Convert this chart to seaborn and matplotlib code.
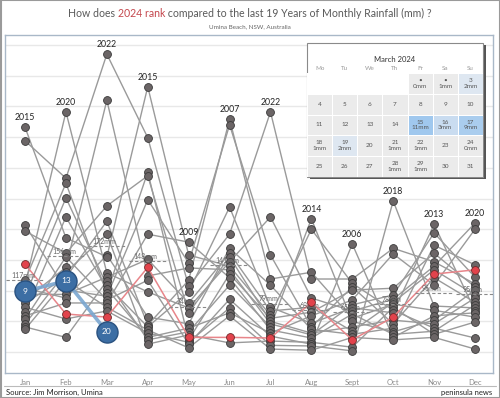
import numpy as np
import pandas as pd
import seaborn as sns
import matplotlib.pyplot as plt
from matplotlib.colors import LinearSegmentedColormap
from matplotlib.patches import Rectangle
from matplotlib.lines import Line2D

months = ['Jan', 'Feb', 'Mar', 'Apr', 'May', 'Jun', 'Jul', 'Aug', 'Sept', 'Oct', 'Nov', 'Dec']

# monthly rainfall (mm), high to low, with the year each value belongs to
jan_mm = [366, 344, 207, 197, 143, 117, 109, 104, 94, 91, 85, 80, 73, 65, 59, 54, 46, 41, 37]
jan_years = [2015, 2022, 2016, 2012, 2023, 2008, 2020, 2011, 2005, 2013, 2021, 2007, 2018, 2010, 2009, 2006, 2017, 2014, 2019]
feb_mm = [391, 283, 275, 251, 220, 186, 161, 155, 138, 130, 122, 117, 101, 94, 88, 80, 62, 54, 24]
feb_years = [2020, 2022, 2008, 2013, 2010, 2015, 2012, 2006, 2021, 2017, 2007, 2019, 2016, 2005, 2011, 2009, 2023, 2018, 2014]
mar_mm = [485, 410, 238, 213, 192, 158, 155, 129, 122, 116, 109, 103, 96, 91, 85, 80, 73, 67, 57]
mar_years = [2022, 2021, 2012, 2007, 2017, 2011, 2015, 2020, 2005, 2014, 2013, 2010, 2008, 2016, 2006, 2009, 2019, 2018, 2023]
apr_mm = [432, 349, 293, 287, 248, 192, 151, 138, 124, 117, 98, 57, 44, 41, 36, 31, 24, 20, 13]
apr_years = [2015, 2022, 2008, 2012, 2016, 2009, 2005, 2023, 2021, 2006, 2020, 2011, 2007, 2013, 2019, 2018, 2010, 2014, 2017]
may_mm = [179, 158, 145, 137, 117, 107, 98, 80, 72, 64, 46, 39, 33, 28, 24, 20, 16, 13, 7]
may_years = [2009, 2015, 2016, 2021, 2007, 2022, 2013, 2005, 2020, 2012, 2011, 2010, 2014, 2017, 2023, 2008, 2018, 2006, 2019]
jun_mm = [379, 370, 236, 192, 169, 161, 155, 147, 140, 134, 127, 121, 109, 86, 72, 64, 59, 24, 15]
jun_years = [2007, 2016, 2013, 2022, 2011, 2005, 2012, 2020, 2015, 2021, 2008, 2009, 2014, 2006, 2018, 2010, 2019, 2023, 2017]
jul_mm = [391, 220, 158, 119, 109, 73, 67, 60, 55, 50, 46, 41, 36, 31, 26, 23, 18, 11, 5]
jul_years = [2022, 2020, 2016, 2007, 2011, 2013, 2005, 2015, 2008, 2012, 2021, 2014, 2009, 2010, 2006, 2023, 2017, 2018, 2019]
aug_mm = [217, 200, 130, 119, 88, 81, 73, 65, 59, 47, 41, 37, 31, 28, 23, 16, 13, 10, 3]
aug_years = [2014, 2015, 2007, 2022, 2020, 2023, 2005, 2008, 2010, 2013, 2016, 2011, 2012, 2021, 2009, 2017, 2006, 2018, 2019]
sep_mm = [176, 119, 112, 106, 101, 85, 77, 72, 67, 62, 55, 50, 41, 34, 29, 24, 20, 8, 2]
sep_years = [2006, 2022, 2015, 2016, 2008, 2010, 2021, 2013, 2020, 2009, 2007, 2014, 2012, 2005, 2011, 2019, 2023, 2017, 2018]
oct_mm = [246, 169, 160, 104, 93, 86, 81, 78, 73, 68, 64, 57, 52, 46, 39, 33, 29, 24, 20]
oct_years = [2018, 2022, 2010, 2008, 2021, 2020, 2005, 2007, 2017, 2015, 2013, 2023, 2012, 2016, 2011, 2014, 2009, 2006, 2019]
nov_mm = [208, 194, 174, 161, 147, 140, 134, 127, 121, 109, 75, 68, 59, 52, 46, 39, 34, 29, 24]
nov_years = [2013, 2021, 2011, 2008, 2022, 2020, 2005, 2023, 2016, 2010, 2018, 2007, 2006, 2014, 2012, 2015, 2009, 2017, 2019]
dec_mm = [210, 200, 142, 134, 122, 111, 106, 101, 93, 88, 81, 77, 72, 67, 64, 57, 49, 23, 5]
dec_years = [2020, 2010, 2011, 2023, 2021, 2022, 2008, 2014, 2005, 2012, 2016, 2009, 2018, 2013, 2006, 2007, 2017, 2015, 2019]

# 2024 so far and its rank among the 20 years
mm_2024 = [99, 116, 33]
rank_2024 = [9, 13, 20]

# average labels shown for each month
avg_mm = [117, 156, 172, 148, 74, 141, 79, 68, 65, 78, 96, 95]

# March 2024 daily rain (calendar)
rain_days = [1, 2, 3, 15, 16, 17, 18, 19, 21, 22, 24, 28, 29]
rain_day_mm = [0, 1, 2, 11, 3, 9, 1, 2, 1, 1, 0, 1, 1]
weekdays = ['Mo', 'Tu', 'We', 'Th', 'Fr', 'Sa', 'Su']

month_mm = [jan_mm, feb_mm, mar_mm, apr_mm, may_mm, jun_mm, jul_mm, aug_mm, sep_mm, oct_mm, nov_mm, dec_mm]
month_years = [jan_years, feb_years, mar_years, apr_years, may_years, jun_years,
               jul_years, aug_years, sep_years, oct_years, nov_years, dec_years]
rows = []
for m, (vals, yrs) in enumerate(zip(month_mm, month_years)):
    for v, y in zip(vals, yrs):
        rows.append({'year': y, 'month': m, 'mm': v})
df = pd.DataFrame(rows)
df24 = pd.DataFrame({'month': range(len(mm_2024)), 'mm': mm_2024, 'rank': rank_2024})

sns.set_theme(style='white')
plt.rcParams['font.family'] = ['Lato', 'DejaVu Sans']

fig = plt.figure(figsize=(5, 3.98), dpi=100)
ax = fig.add_axes([0.01, 0.0628, 0.976, 0.849])

grey = df[df['year'] != 2023]
red = df[df['year'] == 2023]
sns.lineplot(data=grey, x='month', y='mm', units='year', estimator=None, color='#9a9a9a',
             lw=1.0, legend=False, ax=ax, zorder=2)
sns.scatterplot(data=grey, x='month', y='mm', color='#6b6566', edgecolor='#3a3a3a',
                linewidth=0.6, s=32, legend=False, ax=ax, zorder=3)
sns.lineplot(data=red, x='month', y='mm', color='#e8858a', lw=1.1, legend=False, ax=ax, zorder=4)
sns.scatterplot(data=red, x='month', y='mm', color='#e2434c', edgecolor='#6e2a2a',
                linewidth=0.6, s=32, legend=False, ax=ax, zorder=5)

# average dashes
for i, v in enumerate(avg_mm):
    ax.hlines(v, i - 0.47, i + 0.47, colors='#8a8a8a', linestyles=(0, (3, 2)), lw=0.8, zorder=4)
    ax.text(i - 0.05, v + 2, f'{v}mm', fontsize=5, color='#666666', ha='center', va='bottom', zorder=4)

# 2024 ranks
sns.lineplot(data=df24, x='month', y='mm', color='#7aa6d0', lw=2.6, alpha=0.9, legend=False, ax=ax, zorder=6)
sns.scatterplot(data=df24, x='month', y='mm', color='#3c6ea4', edgecolor='#2a5280',
                linewidth=1, s=230, legend=False, ax=ax, zorder=7)
for _, r in df24.iterrows():
    ax.text(r['month'], r['mm'], str(int(r['rank'])), color='white', fontsize=6,
            ha='center', va='center', zorder=8)

# wettest year per month
peaks = df.loc[df.groupby('month')['mm'].idxmax()]
for _, r in peaks.iterrows():
    ax.annotate(str(r['year']), (r['month'], r['mm']), xytext=(0, 3.5), textcoords='offset points',
                ha='center', va='bottom', fontsize=6.3, color='#222222', zorder=8)

ax.set_xlim(-0.49, 11.44)
ax.set_ylim(-34, 516)
ax.set_yticks(range(0, 501, 50))
ax.set_yticklabels([])
ax.yaxis.grid(True, color='#e8e8e8', lw=1)
ax.set_xticks(range(12))
ax.set_xticklabels(months, fontsize=5.5, color='#8a8a8a')
ax.tick_params(length=0, pad=4)
ax.set_xlabel('')
ax.set_ylabel('')
for s in ax.spines.values():
    s.set_color('#a9b8c8')
    s.set_linewidth(1)

# title
t1 = fig.text(0.136, 0.952, 'How does ', color='#5a5a5a', fontsize=7.6, va='bottom')
t2 = ax.annotate('2024 rank', xy=(1, 0), xycoords=t1, va='bottom', color='#c4474d',
                 fontsize=7.6, annotation_clip=False)
ax.annotate(' compared to the last 19 Years of Monthly Rainfall (mm) ?', xy=(1, 0), xycoords=t2,
            va='bottom', color='#5a5a5a', fontsize=7.6, annotation_clip=False)
fig.text(0.5, 1 - 27 / 398, 'Umina Beach, NSW, Australia', fontsize=4.5, color='#666666',
         ha='center', va='center')

# footer
fig.add_artist(Line2D([0.008, 0.992], [1 - 386 / 398] * 2, color='#bbbbbb', lw=0.8))
fig.text(0.012, 1 - 392 / 398, 'Source: Jim Morrison, Umina', fontsize=5.5, color='#222222', va='center')
fig.text(0.985, 1 - 392 / 398, 'peninsula news', fontsize=5.5, color='#222222', va='center', ha='right')
fig.add_artist(Rectangle((0.001, 0.001), 0.998, 0.998, transform=fig.transFigure, fill=False,
                         ec='#9a9a9a', lw=1.5))

# calendar inset
bx, by, bw, bh = 307 / 500, 1 - 177 / 398, 176 / 500, 134 / 398
fig.add_artist(Rectangle((bx + 0.005, by - 0.006), bw, bh, transform=fig.transFigure,
                         fc='#555555', ec='none', zorder=2))
fig.add_artist(Rectangle((bx, by), bw, bh, transform=fig.transFigure,
                         fc='white', ec='#8a8a8a', lw=0.8, zorder=2))
grid = np.full((5, 7), np.nan)
labels = np.full((5, 7), '', dtype=object)
for d in range(1, 32):
    pos = d + 3
    r, c = divmod(pos, 7)
    mm = rain_day_mm[rain_days.index(d)] if d in rain_days else None
    grid[r, c] = mm if mm is not None else 0
    day = '•' if d in (1, 2) else str(d)
    labels[r, c] = f'{day}\n{mm}mm' if mm is not None else day
cmap = LinearSegmentedColormap.from_list('cal', [(0, '#ebebeb'), (1 / 11, '#ebebeb'), (2 / 11, '#dee7f1'),
                                                 (3 / 11, '#c9dcf0'), (1, '#a0c8ee')])
cax = fig.add_axes([bx, by, bw, 104 / 398], zorder=3)
sns.heatmap(grid, mask=np.isnan(grid), annot=labels, fmt='', cmap=cmap, vmin=0, vmax=11,
            cbar=False, linewidths=0.5, linecolor='white', ax=cax,
            annot_kws={'fontsize': 4.6, 'color': '#555555'})
cax.xaxis.tick_top()
cax.set_xticklabels(weekdays, fontsize=4.5, color='#9a9a9a')
cax.set_yticks([])
cax.tick_params(length=0, pad=1.5)
fig.text(bx + bw / 2, 1 - 60 / 398, 'March 2024', fontsize=5.5, color='#333333', ha='center',
         va='center', zorder=4)

fig.savefig('out.png', dpi=100)
